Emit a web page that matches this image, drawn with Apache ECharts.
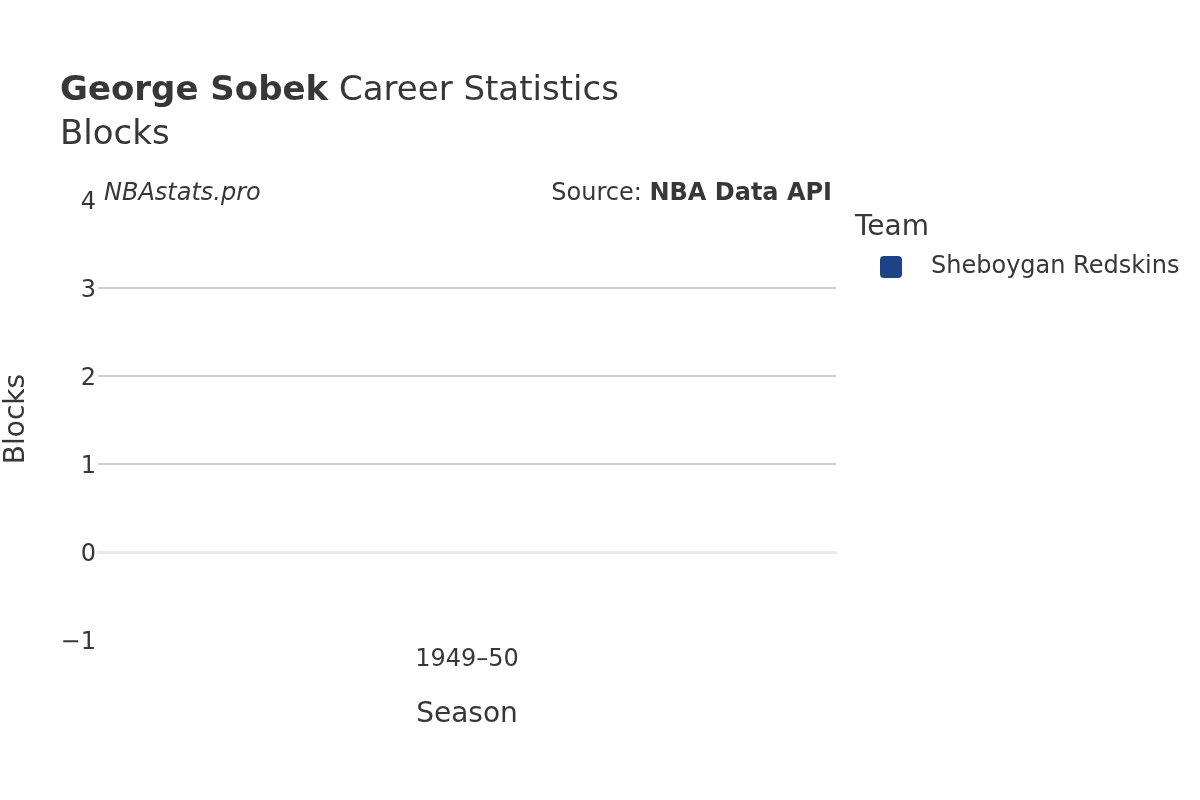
<!DOCTYPE html>
<html>
<head>
<meta charset="utf-8">
<script src="https://cdn.jsdelivr.net/npm/echarts@6/dist/echarts.min.js"></script>
<style>html,body{margin:0;padding:0;background:#fff}#c{width:1200px;height:800px}</style>
</head>
<body>
<div id="c"></div>
<script>
const seasons = ['1949–50'];
const teamName = 'Sheboygan Redskins';
const blocks = [0];
const yTicks = [-1, 0, 1, 2, 3, 4];

const FONT = 'DejaVu Sans';
const TXT = '#373737';
const chart = echarts.init(document.getElementById('c'), null, {renderer: 'canvas'});
chart.setOption({
  backgroundColor: '#fff',
  animation: false,
  textStyle: {fontFamily: FONT, color: TXT},
  title: {
    left: 55, top: 69,
    text: '{b|George Sobek} {n|Career Statistics}',
    subtext: 'Blocks',
    itemGap: 10,
    textStyle: {fontWeight: 'normal', fontSize: 34, rich: {
      b: {fontFamily: FONT, fontSize: 34, fontWeight: 'bold', color: TXT},
      n: {fontFamily: FONT, fontSize: 34, fontWeight: 'normal', color: TXT}
    }},
    subtextStyle: {fontFamily: FONT, fontSize: 34, color: TXT}
  },
  grid: {left: 98, right: 364, top: 200, bottom: 160, containLabel: false},
  xAxis: {
    type: 'category', data: seasons,
    axisLine: {show: true, onZero: true, lineStyle: {color: '#ebebeb', width: 3}},
    axisTick: {show: false},
    axisLabel: {fontFamily: FONT, fontSize: 24, color: TXT, margin: 8},
    splitLine: {show: false}
  },
  yAxis: {
    type: 'value', min: yTicks[0], max: yTicks[yTicks.length - 1], interval: 1,
    axisLine: {show: false}, axisTick: {show: false},
    axisLabel: {fontFamily: FONT, fontSize: 24, color: TXT, margin: 2,
      formatter: v => '{t|' + (v < 0 ? '\u2212' + Math.abs(v) : String(v)) + '}',
      rich: {t: {fontFamily: FONT, fontSize: 24, color: TXT, padding: [6, 0, 0, 0]}}},
    splitLine: {show: true, lineStyle: {width: 1.5,
      color: ['rgba(0,0,0,0)', 'rgba(0,0,0,0)', '#c0c0c0', '#c0c0c0', '#c0c0c0', 'rgba(0,0,0,0)']}}
  },
  legend: {
    orient: 'vertical', left: 875, top: 250,
    data: [teamName],
    itemWidth: 22, itemHeight: 22, itemGap: 10,
    icon: 'path://M4,0 H18 A4,4 0 0 1 22,4 V18 A4,4 0 0 1 18,22 H4 A4,4 0 0 1 0,18 V4 A4,4 0 0 1 4,0 Z',
    textStyle: {fontFamily: FONT, fontSize: 24, color: TXT, padding: [0, 0, 0, 24]}
  },
  graphic: [
    {type: 'text', left: 855, top: 214, style: {text: 'Team', font: '28px "DejaVu Sans"', fill: TXT}},
    {type: 'text', left: 104, top: 182, style: {text: 'NBAstats.pro', font: 'italic 24px "DejaVu Sans"', fill: TXT}},
    {type: 'text', right: 368, top: 182, style: {
      text: '{n|Source: }{b|NBA Data API}',
      rich: {n: {font: '24px "DejaVu Sans"', fill: TXT}, b: {font: 'bold 24px "DejaVu Sans"', fill: TXT}}}},
    {type: 'text', x: 467, y: 715, style: {text: 'Season', font: '28px "DejaVu Sans"', fill: TXT, align: 'center', verticalAlign: 'middle'}},
    {type: 'text', x: 17, y: 419, rotation: Math.PI / 2, style: {text: 'Blocks', font: '28px "DejaVu Sans"', fill: TXT, align: 'center', verticalAlign: 'middle'}}
  ],
  series: [{
    name: teamName, type: 'bar', data: blocks,
    itemStyle: {color: '#1d428a'}, barWidth: '60%'
  }]
});
</script>
</body>
</html>
